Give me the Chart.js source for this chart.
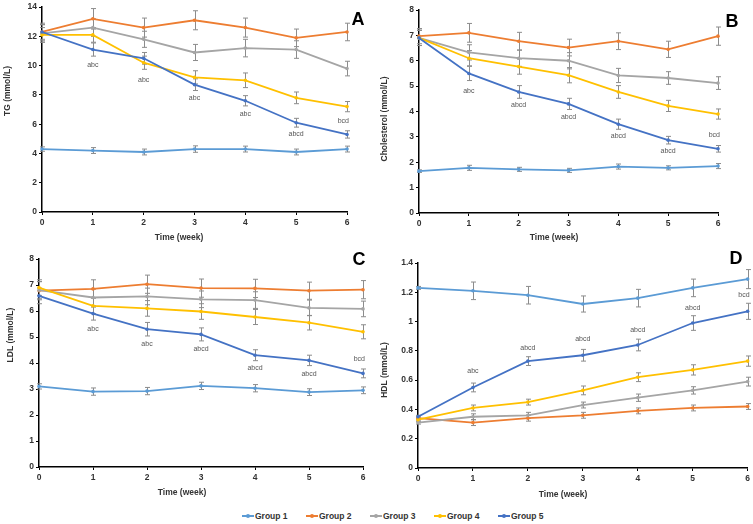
<!DOCTYPE html>
<html>
<head>
<meta charset="utf-8">
<script src="https://cdn.jsdelivr.net/npm/chart.js@4.4.0/dist/chart.umd.min.js"></script>
<style>
  body { margin: 0; width: 753px; height: 524px; background: #fff; position: relative; overflow: hidden;
         font-family: 'Liberation Sans', Arial, sans-serif; }
  .panel { position: absolute; }
  #legend { position: absolute; top: 511px; left: 242px; display: flex; }
  .item { width: 64px; display: flex; align-items: center; font-size: 8.5px; font-weight: bold; color: #333; }
  .mark { position: relative; width: 12px; height: 2px; margin-right: 1px; }
  .mark i { position: absolute; left: 4px; top: -1.5px; width: 4px; height: 4px; border-radius: 50%; }
</style>
</head>
<body>
<canvas class="panel" id="chartA" width="375" height="250" style="left:0;top:0"></canvas>
<canvas class="panel" id="chartB" width="378" height="250" style="left:375px;top:0"></canvas>
<canvas class="panel" id="chartC" width="375" height="250" style="left:0;top:250px"></canvas>
<canvas class="panel" id="chartD" width="378" height="250" style="left:375px;top:250px"></canvas>
<div id="legend"></div>
<script>
const weeks = ['0', '1', '2', '3', '4', '5', '6'];
const groups = ['Group 1', 'Group 2', 'Group 3', 'Group 4', 'Group 5'];
const groupColors = ['#5B9BD5', '#ED7D31', '#A5A5A5', '#FFC000', '#4472C4'];

// rows = Group 1..5
const tgMean = [
    [4.3, 4.2, 4.1, 4.3, 4.3, 4.1, 4.3],
    [12.3, 13.2, 12.6, 13.1, 12.6, 11.9, 12.3],
    [12.2, 12.6, 11.8, 10.9, 11.2, 11.1, 9.8],
    [12.1, 12.1, 10.2, 9.2, 9.0, 7.8, 7.2],
    [12.3, 11.1, 10.5, 8.7, 7.6, 6.1, 5.3]
];
const tgErr = [
    [0.15, 0.2, 0.2, 0.22, 0.2, 0.2, 0.2],
    [0.6, 0.7, 0.65, 0.65, 0.65, 0.6, 0.6],
    [0.6, 0.6, 0.55, 0.55, 0.6, 0.6, 0.5],
    [0.5, 0.5, 0.45, 0.45, 0.5, 0.4, 0.35],
    [0.5, 0.45, 0.4, 0.4, 0.35, 0.3, 0.25]
];
const tgNotes = ['', 'abc', 'abc', 'abc', 'abc', 'abcd', 'bcd'];
const tgNoteY = [null, 10.05, 9.0, 7.8, 6.7, 5.3, 6.2];

const cholMean = [
    [1.65, 1.78, 1.72, 1.68, 1.83, 1.78, 1.85],
    [6.97, 7.1, 6.77, 6.52, 6.77, 6.45, 6.97],
    [6.9, 6.33, 6.1, 6.0, 5.42, 5.32, 5.12],
    [6.9, 6.1, 5.77, 5.43, 4.77, 4.22, 3.9],
    [6.9, 5.5, 4.77, 4.3, 3.5, 2.87, 2.53]
];
const cholErr = [
    [0.05, 0.1, 0.08, 0.08, 0.1, 0.08, 0.1],
    [0.3, 0.37, 0.35, 0.33, 0.33, 0.32, 0.36],
    [0.3, 0.3, 0.32, 0.32, 0.28, 0.25, 0.25],
    [0.3, 0.3, 0.3, 0.3, 0.25, 0.22, 0.2],
    [0.3, 0.28, 0.25, 0.22, 0.2, 0.15, 0.13]
];
const cholNotes = ['', 'abc', 'abcd', 'abcd', 'abcd', 'abcd', 'bcd'];
const cholNoteY = [null, 4.82, 4.26, 3.78, 3.03, 2.45, 3.07];

const ldlMean = [
    [3.1, 2.9, 2.92, 3.12, 3.03, 2.88, 2.95],
    [6.78, 6.85, 7.03, 6.88, 6.87, 6.78, 6.82],
    [6.8, 6.52, 6.56, 6.45, 6.42, 6.12, 6.08],
    [6.9, 6.2, 6.1, 5.98, 5.77, 5.55, 5.2],
    [6.58, 5.9, 5.3, 5.1, 4.3, 4.1, 3.6]
];
const ldlErr = [
    [0.1, 0.14, 0.14, 0.14, 0.14, 0.13, 0.13],
    [0.35, 0.35, 0.35, 0.35, 0.35, 0.33, 0.35],
    [0.33, 0.32, 0.32, 0.32, 0.32, 0.3, 0.3],
    [0.3, 0.3, 0.3, 0.3, 0.29, 0.28, 0.27],
    [0.3, 0.25, 0.26, 0.25, 0.21, 0.2, 0.17]
];
const ldlNotes = ['', 'abc', 'abc', 'abcd', 'abcd', 'abcd', 'bcd'];
const ldlNoteY = [null, 5.31, 4.73, 4.55, 3.8, 3.58, 4.14];

const hdlMean = [
    [1.23, 1.21, 1.18, 1.12, 1.16, 1.23, 1.29],
    [0.34, 0.31, 0.34, 0.36, 0.39, 0.41, 0.42],
    [0.31, 0.35, 0.36, 0.43, 0.48, 0.53, 0.59],
    [0.33, 0.41, 0.45, 0.53, 0.62, 0.67, 0.73],
    [0.35, 0.55, 0.73, 0.77, 0.84, 0.99, 1.07]
];
const hdlErr = [
    [0.01, 0.06, 0.06, 0.055, 0.06, 0.06, 0.065],
    [0.01, 0.02, 0.02, 0.02, 0.02, 0.02, 0.02],
    [0.01, 0.02, 0.02, 0.02, 0.025, 0.025, 0.03],
    [0.01, 0.02, 0.02, 0.03, 0.03, 0.035, 0.035],
    [0.01, 0.03, 0.03, 0.04, 0.04, 0.05, 0.055]
];
const hdlNotes = ['', 'abc', 'abcd', 'abcd', 'abcd', 'abcd', 'bcd'];
const hdlNoteY = [null, 0.66, 0.82, 0.88, 0.94, 1.09, 1.18];

const FONT = "'Liberation Sans', Arial, sans-serif";

// error bars, small letter notes, axis titles and panel letter
const extras = {
    id: 'extras',
    beforeDatasetsDraw(chart) {
        const { ctx, scales: { x, y } } = chart;
        ctx.save();
        ctx.strokeStyle = '#8c8c8c';
        ctx.lineWidth = 1;
        chart.data.datasets.forEach(ds => {
            ds.data.forEach((v, j) => {
                const e = ds.errors[j];
                const px = Math.round(x.getPixelForValue(j)) + 0.5;
                const top = y.getPixelForValue(v + e);
                const bot = y.getPixelForValue(v - e);
                ctx.beginPath();
                ctx.moveTo(px, top); ctx.lineTo(px, bot);
                ctx.moveTo(px - 2.5, top); ctx.lineTo(px + 2.5, top);
                ctx.moveTo(px - 2.5, bot); ctx.lineTo(px + 2.5, bot);
                ctx.stroke();
            });
        });
        ctx.restore();
    },
    afterDraw(chart, args, o) {
        const { ctx, scales: { x, y } } = chart;
        ctx.save();
        ctx.fillStyle = '#555';
        ctx.font = '7px ' + FONT;
        ctx.textBaseline = 'middle';
        o.notes.forEach((t, j) => {
            if (!t) return;
            const px = x.getPixelForValue(j);
            const py = y.getPixelForValue(o.noteY[j]);
            if (j === o.notes.length - 1) {
                ctx.textAlign = 'right';
                ctx.fillText(t, px + 2, py);
            } else {
                ctx.textAlign = 'center';
                ctx.fillText(t, px, py);
            }
        });
        ctx.fillStyle = '#333';
        ctx.font = 'bold 8.5px ' + FONT;
        ctx.textAlign = 'center';
        ctx.fillText('Time (week)', o.xTitleX, o.xTitleY);
        ctx.save();
        ctx.translate(o.yTitleX, o.yTitleY);
        ctx.rotate(-Math.PI / 2);
        ctx.fillText(o.yTitle, 0, 0);
        ctx.restore();
        ctx.fillStyle = '#000';
        ctx.font = 'bold 18px ' + FONT;
        ctx.fillText(o.letter, o.letterX, o.letterY);
        ctx.restore();
    }
};

const panels = [
    { id: 'chartA', mean: tgMean, err: tgErr, notes: tgNotes, noteY: tgNoteY, yMax: 14, yStep: 2,
      yTitle: 'TG (mmol/L)', letter: 'A',
      pad: { top: 5, right: 28 }, yWidth: 42, xHeight: 38,
      yTitleX: 8, yTitleY: 91, xTitleX: 179, xTitleY: 238, letterX: 358, letterY: 20 },
    { id: 'chartB', mean: cholMean, err: cholErr, notes: cholNotes, noteY: cholNoteY, yMax: 8, yStep: 1,
      yTitle: 'Cholesterol (mmol/L)', letter: 'B',
      pad: { top: 10, right: 35 }, yWidth: 44, xHeight: 37,
      yTitleX: 10, yTitleY: 119, xTitleX: 179, xTitleY: 238, letterX: 357, letterY: 22 },
    { id: 'chartC', mean: ldlMean, err: ldlErr, notes: ldlNotes, noteY: ldlNoteY, yMax: 8, yStep: 1,
      yTitle: 'LDL (mmol/L)', letter: 'C',
      pad: { top: 9, right: 12 }, yWidth: 39, xHeight: 33,
      yTitleX: 11, yTitleY: 85, xTitleX: 182, xTitleY: 243, letterX: 359, letterY: 10 },
    { id: 'chartD', mean: hdlMean, err: hdlErr, notes: hdlNotes, noteY: hdlNoteY, yMax: 1.4, yStep: 0.2,
      yTitle: 'HDL (mmol/L)', letter: 'D',
      pad: { top: 13, right: 5 }, yWidth: 43, xHeight: 32,
      yTitleX: 10, yTitleY: 120, xTitleX: 188, xTitleY: 245, letterX: 361, letterY: 9 }
];

const tickFont = { family: FONT, size: 8.5, weight: 'bold' };

panels.forEach(p => {
    new Chart(document.getElementById(p.id), {
        type: 'line',
        data: {
            labels: weeks,
            datasets: groups.map((g, i) => ({
                label: g,
                data: p.mean[i],
                errors: p.err[i],
                borderColor: groupColors[i],
                backgroundColor: groupColors[i],
                borderWidth: 1.8,
                pointRadius: 1.8,
                pointBorderWidth: 0,
                tension: 0,
                order: 5 - i
            }))
        },
        options: {
            responsive: false,
            animation: false,
            layout: { padding: { top: p.pad.top, right: p.pad.right, left: 0, bottom: 0 } },
            plugins: {
                legend: { display: false },
                tooltip: { enabled: false },
                extras: p
            },
            scales: {
                x: {
                    grid: { drawOnChartArea: false, drawTicks: true, tickLength: 3, color: '#000' },
                    border: { color: '#000', width: 1.5 },
                    ticks: { font: tickFont, color: '#333', padding: 3, maxRotation: 0 },
                    afterFit: s => { s.height = p.xHeight; }
                },
                y: {
                    min: 0,
                    max: p.yMax,
                    grid: { drawOnChartArea: false, drawTicks: true, tickLength: 3, color: '#000' },
                    border: { color: '#000', width: 1.5 },
                    ticks: {
                        stepSize: p.yStep,
                        font: tickFont,
                        color: '#333',
                        padding: 2,
                        callback: v => String(Math.round(v * 10) / 10)
                    },
                    afterFit: s => { s.width = p.yWidth; }
                }
            }
        },
        plugins: [extras]
    });
});

// legend
const legend = document.getElementById('legend');
groups.forEach((g, i) => {
    const item = document.createElement('div');
    item.className = 'item';
    item.innerHTML = `<span class="mark" style="background:${groupColors[i]}"><i style="background:${groupColors[i]}"></i></span>${g}`;
    legend.appendChild(item);
});
</script>
</body>
</html>
